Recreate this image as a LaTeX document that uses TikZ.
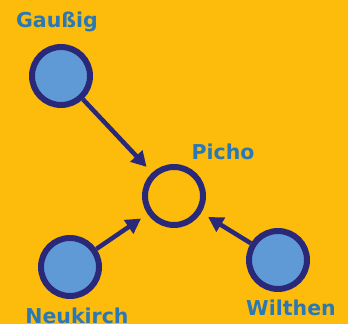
\documentclass[tikz,border=0pt]{standalone}
\usepackage{fontspec}
\setmainfont{DejaVu Sans}
\usetikzlibrary{arrows.meta}
\definecolor{bgorange}{HTML}{FDBB0C}
\definecolor{townblue}{HTML}{5F9AD6}
\definecolor{rimnavy}{HTML}{2A2878}
\definecolor{labelblue}{HTML}{2A78B6}
\begin{document}
\begin{tikzpicture}
  [
    x=1pt, y=1pt,
    town/.style={
      circle,
      draw=rimnavy,
      line width=6pt,
      minimum size=58pt,
      inner sep=0pt
    },
    village/.style={
      town,
      fill=townblue
    },
    placename/.style={
      text=labelblue,
      font=\bfseries\fontsize{20.5}{22}\selectfont
    },
    link/.style={
      draw=rimnavy,
      line width=4.5pt,
      shorten >=8pt,
      -{Triangle[length=15pt,width=16pt]}
    }
  ]

  % background
  \fill [bgorange] (0,0) rectangle (348,324);

  % places
  \node [village] (gaussig) at (61,248) {};
  \node [town] (picho) at (174,128) {};
  \node [village] (neukirch) at (70,57) {};
  \node [village] (wilthen) at (278,64) {};

  % names
  \node [placename] (gaussiglabel) at (57,302) {Gaußig};
  \node [placename] (picholabel) at (223,172) {Picho};
  \node [placename] (neukirchlabel) at (77,8) {Neukirch};
  \node [placename] (wilthenlabel) at (291,16) {Wilthen};

  % links
  \foreach \s in {gaussig,neukirch,wilthen} {
    \draw [link] (\s) -- (picho);
  }
\end{tikzpicture}
\end{document}
